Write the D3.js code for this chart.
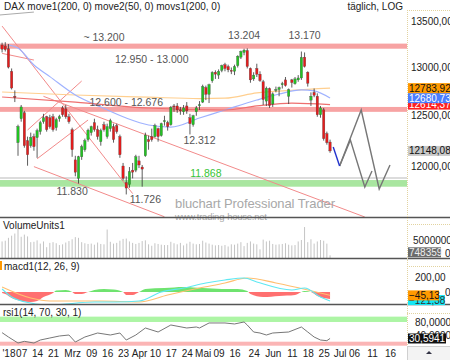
<!DOCTYPE html>
<html>
<head>
<meta charset="utf-8">
<script src="https://cdn.jsdelivr.net/npm/d3@7"></script>
<style>
  body { margin: 0; background: #fff; }
  svg { display: block; font-family: "Liberation Sans", Arial, sans-serif; }
</style>
</head>
<body>
<svg id="chart" width="450" height="360"></svg>
<script>
// ---- data -------------------------------------------------------------
var holidays = ["2018-03-30", "2018-04-02", "2018-05-01"];

// daily candles 2018-01-30 .. 2018-06-27
var opens = [
  13240,13230,13200,12960,12700,12230,12470,12530,12250,12200,
  12290,12280,12340,12440,12490,12480,12490,12380,12470,12580,
  12570,12490,12360,12060,11880,12090,12160,12260,12330,12430,
  12360,12240,12410,12290,12370,12390,12400,12290,12000,11840,
  11820,11960,11960,12050,11990,12100,12260,12290,12290,12370,
  12300,12440,12430,12410,12600,12600,12560,12540,12600,12480,
  12410,12540,12610,12640,12790,12720,12860,12950,12920,12970,
  13030,13010,12970,12960,13020,13110,13160,13180,12990,12880,
  12990,12930,12850,12650,12780,12620,12760,12770,12820,12870,
  12700,12870,12830,12870,12890,13110,12950,12660,12740,12700,
  12510,12560,12320,12236];
var highs = [
  13265,13270,13250,12990,12760,12410,12610,12550,12290,12330,
  12320,12370,12450,12520,12500,12510,12520,12480,12510,12600,
  12610,12520,12380,12100,12100,12210,12270,12370,12400,12470,
  12400,12370,12440,12420,12470,12420,12420,12310,12030,11900,
  11990,12030,12110,12100,12010,12330,12300,12370,12420,12380,
  12430,12500,12450,12600,12620,12630,12590,12610,12640,12520,
  12510,12600,12650,12820,12810,12830,12960,12970,12980,13030,
  13050,13030,13000,13030,13130,13180,13200,13204,13000,12950,
  13040,12960,12870,12800,12790,12740,12800,12800,12850,12900,
  12780,12880,12900,12920,13170,13160,12960,12740,12780,12730,
  12600,12580,12340,12260];
var lows = [
  13160,13170,12990,12770,12640,12100,12440,12180,12003,12180,
  12150,12080,12310,12420,12340,12370,12340,12350,12440,12490,
  12470,12420,12090,11900,11830,12060,12140,12240,12300,12340,
  12260,12200,12340,12270,12340,12230,12320,12080,11860,11726,
  11790,11880,11940,11980,11800,12090,12160,12240,12280,12240,
  12290,12400,12350,12400,12540,12530,12510,12510,12520,12312,
  12390,12500,12560,12630,12660,12630,12840,12880,12880,12950,
  12960,12950,12930,12920,13000,13090,13130,12990,12840,12860,
  12900,12850,12610,12600,12580,12590,12740,12700,12780,12800,
  12620,12790,12820,12850,12870,13000,12800,12600,12690,12490,
  12480,12250,12210,12130];
var closes = [
  13195,13190,13004,12785,12687,12392,12590,12200,12110,12282,
  12190,12350,12430,12480,12360,12390,12360,12460,12490,12510,
  12490,12440,12160,11940,12090,12190,12250,12355,12390,12360,
  12290,12350,12360,12390,12450,12260,12340,12110,11880,11787,
  11945,11940,12090,12010,11970,12305,12240,12260,12400,12290,
  12420,12450,12390,12585,12590,12560,12550,12580,12550,12420,
  12500,12580,12612,12800,12720,12820,12948,12930,12960,13020,
  12990,12975,12965,13010,13120,13170,13185,13010,12870,12920,
  12930,12863,12666,12783,12605,12724,12770,12790,12830,12811,
  12767,12842,12880,12890,13107,13011,12835,12700,12710,12510,
  12580,12270,12230,12148];
var volumes = [
  4.6,4.8,5.6,6.2,6.8,8.4,5.9,6.5,6.0,4.4,
  4.5,4.9,4.0,4.6,3.0,4.2,4.4,4.1,3.6,3.8,
  4.3,4.7,5.2,5.8,5.6,4.4,4.1,3.9,4.0,3.7,
  4.3,3.9,3.8,7.9,4.5,4.0,4.2,4.8,5.3,5.4,
  4.6,4.2,3.9,4.2,4.7,4.9,3.8,3.4,4.1,3.9,
  3.7,3.6,3.6,4.5,4.1,3.8,4.2,3.5,4.0,4.5,
  4.0,3.8,3.9,4.8,4.3,4.0,3.7,3.5,3.6,3.4,
  3.6,3.2,3.8,3.7,4.0,4.4,3.3,4.2,4.6,4.0,
  3.8,2.4,5.1,4.6,4.8,3.9,3.7,3.8,3.9,4.1,
  3.7,3.5,3.6,4.6,5.0,8.6,4.4,5.2,4.0,4.6,
  5.0,4.8,4.0,0.748359]; // millions

var ma200Dates = ["2018-01-30","2018-03-02","2018-04-06","2018-04-30","2018-05-11","2018-05-25","2018-06-11","2018-06-27"];
var ma200Values = [12744,12713,12690,12676,12680,12735,12762,12783.92];
var ma50Dates = ["2018-02-01","2018-02-06","2018-02-13","2018-02-20","2018-03-02","2018-03-14","2018-03-26","2018-04-06","2018-04-17","2018-04-30","2018-05-11","2018-05-25","2018-06-05","2018-06-14","2018-06-20","2018-06-27"];
var ma50Values = [13240,13207,13026,12904,12713,12589,12477,12407,12386,12477,12559,12661,12723,12765,12755,12680.73];
var movsDates = ["2018-01-30","2018-03-02","2018-04-06","2018-05-11","2018-05-25","2018-06-11","2018-06-27"];
var movsValues = [12692,12640,12579,12559,12600,12630,12614.37];

var resistBands = [[13200, 13255], [12540, 12590]];
var supportBand = [11800, 11864];
var supportLine = 11884;

var trendLines = [
  ["2018-01-30", 13445, "2018-03-28", 11734],
  ["2018-02-09", 12356, "2018-03-06", 12858],
  ["2018-02-14", 12071, "2018-03-08", 12457],
  ["2018-02-13", 11994, "2018-04-13", 11515],
  ["2018-02-16", 12699, "2018-07-09", 11513],
  ["2018-01-30", 13150, "2018-02-13", 13079]
];
var greyLine = ["2018-01-29", 13566, "2018-02-13", 13599];

var projDates = ["2018-06-28", "2018-07-02"];
var projValues = [12187, 12000];
var pathADates = ["2018-07-02","2018-07-05","2018-07-09","2018-07-11"];
var pathAValues = [12000, 12256, 11797, 11951];
var pathBDates = ["2018-07-02","2018-07-08","2018-07-13","2018-07-16"];
var pathBValues = [12000, 12559, 11778, 12010];

var notes = ["~ 13.200", "12.950 - 13.000", "13.204", "13.170", "12.600 - 12.676", "12.312", "11.868", "11.830", "11.726"];
var noteDates = ["2018-03-15","2018-04-09","2018-05-21","2018-06-15","2018-03-26","2018-04-30","2018-05-03","2018-03-01","2018-04-05"];
var notePrices = [13283, 13047, 13305, 13305, 12600, 12217, 11893, 11724, 11640];

var priceTicks = [12000, 12500, 13000, 13500];
var priceTags = [12614.37, 12680.73, 12783.92, 12148.08];

var macdDates = ["2018-01-30","2018-02-02","2018-02-12","2018-02-20","2018-03-12","2018-03-21","2018-04-03","2018-04-12","2018-04-23","2018-05-03","2018-05-11","2018-05-21","2018-05-25","2018-06-11","2018-06-15","2018-06-22","2018-06-27"];
var macdValues = [40,-67,-147,-173,-133,-133,-120,0,53,120,160,187,133,27,53,-67,-121.38];
var signalDates = ["2018-01-30","2018-02-12","2018-02-20","2018-03-14","2018-04-03","2018-04-16","2018-04-30","2018-05-11","2018-05-22","2018-06-04","2018-06-18","2018-06-27"];
var signalValues = [67,-80,-120,-120,-133,-40,53,120,187,120,27,-45.13];
var histDates = ["2018-01-30","2018-01-31","2018-02-02","2018-02-07","2018-02-12","2018-02-14","2018-02-16","2018-02-21","2018-02-22","2018-02-27","2018-03-01","2018-03-02","2018-03-06","2018-03-08","2018-03-12","2018-03-15","2018-03-20","2018-03-23","2018-03-26","2018-03-28","2018-04-03","2018-04-05","2018-04-13","2018-04-23","2018-05-02","2018-05-10","2018-05-17","2018-05-22","2018-05-23","2018-05-29","2018-06-05","2018-06-12","2018-06-14","2018-06-15","2018-06-19","2018-06-21","2018-06-25","2018-06-27"];
var histValues = [-13,-27,-80,-120,-133,-120,-67,-13,20,27,0,-27,-27,0,27,40,33,0,-40,-40,0,40,53,67,53,40,40,13,-27,-67,-53,-40,0,13,0,-53,-80,-93];

var rsiDates = ["2018-01-30","2018-02-01","2018-02-06","2018-02-08","2018-02-13","2018-02-15","2018-02-20","2018-02-23","2018-02-28","2018-03-02","2018-03-07","2018-03-13","2018-03-19","2018-03-22","2018-03-26","2018-03-29","2018-04-05","2018-04-11","2018-04-17","2018-04-24","2018-04-27","2018-04-30","2018-05-04","2018-05-11","2018-05-16","2018-05-21","2018-05-22","2018-05-24","2018-05-28","2018-05-30","2018-06-01","2018-06-08","2018-06-14","2018-06-18","2018-06-20","2018-06-22","2018-06-26","2018-06-27"];
var rsiValues = [48,35,17,22,17,26,32,38,41,20,35,47,41,47,26,41,62,50,71,62,65,62,77,77,74,80,71,50,47,41,47,50,65,50,35,26,24,30.5941];

var xTickDates = ["2018-02-01","2018-02-07","2018-02-14","2018-02-21","2018-03-01","2018-03-09","2018-03-16","2018-03-23","2018-04-03","2018-04-10","2018-04-17","2018-04-24","2018-05-02","2018-05-09","2018-05-16","2018-05-24","2018-06-01","2018-06-11","2018-06-18","2018-06-25","2018-07-02","2018-07-06","2018-07-11","2018-07-16"];
var xTickLabels = ["'18","07","14","21","Mrz","09","16","23","Apr","10","17","24","Mai","09","16","24","Jun","11","18","25","Jul","06","11","16"];

// ---- slots: trading days, then calendar days in the future ---------------
var iso = d3.timeFormat("%Y-%m-%d");
var slots = [];
d3.timeDay.range(new Date(2018, 0, 29), new Date(2018, 6, 3)).forEach(function(d) {
  var w = d.getDay();
  if (w > 0 && w < 6 && holidays.indexOf(iso(d)) < 0) slots.push(iso(d));
});
d3.timeDay.range(new Date(2018, 6, 3), new Date(2018, 6, 24)).forEach(function(d) { slots.push(iso(d)); });
var slotOf = new Map(slots.map(function(s, i) { return [s, i]; }));
var candleDates = slots.slice(1, 1 + closes.length);

// ---- layout -----------------------------------------------------------
var plotR = 407;
var main = { top: 0, bottom: 217 }, vol = { top: 218, bottom: 258 },
    macdP = { top: 258, bottom: 304 }, rsiP = { top: 305, bottom: 346 };
var fs = "10px";

var x = d3.scaleLinear().domain([25, 107, 121]).range([78.5, 339.6, 390]);
function X(d) { return x(slotOf.get(d)); }
var y = d3.scaleLog().domain([11513, 13733]).range([main.bottom, main.top]);
var yVol = d3.scaleLinear().domain([0, 11.11]).range([vol.bottom, vol.top]);
var yMacd = d3.scaleLinear().domain([-160, 453]).range([macdP.bottom, macdP.top]);
var yRsi = d3.scaleLinear().domain([0, 100]).range([348.7, 315.3]);

var de = function(f) { return function(v) { return d3.format(f)(v).replace(".", ","); }; };

var svg = d3.select("#chart");
var defs = svg.append("defs");
function clip(id, top, bottom) {
  defs.append("clipPath").attr("id", id).append("rect")
    .attr("x", 0).attr("y", top).attr("width", plotR).attr("height", bottom - top);
}
clip("cMain", main.top, main.bottom);
clip("cVol", vol.top, vol.bottom);
clip("cMacd", macdP.top, macdP.bottom);
clip("cRsi", rsiP.top, rsiP.bottom);
defs.append("clipPath").attr("id", "cPos").append("rect").attr("x", 0).attr("y", macdP.top).attr("width", plotR).attr("height", yMacd(0) - macdP.top);
defs.append("clipPath").attr("id", "cNeg").append("rect").attr("x", 0).attr("y", yMacd(0)).attr("width", plotR).attr("height", macdP.bottom - yMacd(0));

// ---- main panel ----------------------------------------------------------
var gm = svg.append("g").attr("clip-path", "url(#cMain)");

gm.selectAll("rect.res").data(resistBands).join("rect")
  .attr("x", 0).attr("width", plotR)
  .attr("y", function(d) { return y(d[1]); })
  .attr("height", function(d) { return y(d[0]) - y(d[1]); })
  .attr("fill", "#f7a3a3");
gm.append("line").attr("x1", 0).attr("x2", plotR)
  .attr("y1", y(supportLine)).attr("y2", y(supportLine))
  .attr("stroke", "#dcdcdc").attr("stroke-width", 2);
gm.append("rect").attr("x", 0).attr("width", plotR)
  .attr("y", y(supportBand[1])).attr("height", y(supportBand[0]) - y(supportBand[1]))
  .attr("fill", "#a9e6a0");

gm.selectAll("line.trend").data(trendLines).join("line")
  .attr("x1", function(d) { return X(d[0]); }).attr("y1", function(d) { return y(d[1]); })
  .attr("x2", function(d) { return X(d[2]); }).attr("y2", function(d) { return y(d[3]); })
  .attr("stroke", "#f28a8a").attr("stroke-width", 1);
gm.append("line")
  .attr("x1", X(greyLine[0])).attr("y1", y(greyLine[1]))
  .attr("x2", X(greyLine[2])).attr("y2", y(greyLine[3]))
  .attr("stroke", "#aaa").attr("stroke-width", 1);

function series(dates, values) { return dates.map(function(d, i) { return [X(d), values[i]]; }); }
var priceLine = d3.line().x(function(d) { return d[0]; }).y(function(d) { return y(d[1]); }).curve(d3.curveMonotoneX);
gm.append("path").attr("d", priceLine(series(ma200Dates, ma200Values))).attr("fill", "none").attr("stroke", "#ffcf8f").attr("stroke-width", 1.2);
gm.append("path").attr("d", priceLine(series(ma50Dates, ma50Values))).attr("fill", "none").attr("stroke", "#9fb2ff").attr("stroke-width", 1.2);
gm.append("path").attr("d", priceLine(series(movsDates, movsValues))).attr("fill", "none").attr("stroke", "#ee6f6f").attr("stroke-width", 1.2);

var candles = candleDates.map(function(d, i) {
  return { d: d, o: opens[i], h: highs[i], l: lows[i], c: closes[i] };
});
gm.selectAll("line.wick").data(candles).join("line")
  .attr("x1", function(d) { return X(d.d); }).attr("x2", function(d) { return X(d.d); })
  .attr("y1", function(d) { return y(d.h); }).attr("y2", function(d) { return y(d.l); })
  .attr("stroke", "#333").attr("stroke-width", 0.8);
gm.selectAll("rect.body").data(candles).join("rect")
  .attr("x", function(d) { return X(d.d) - 1.2; }).attr("width", 2.4)
  .attr("y", function(d) { return y(Math.max(d.o, d.c)); })
  .attr("height", function(d) { return Math.max(1, Math.abs(y(d.o) - y(d.c))); })
  .attr("fill", function(d) { return d.c >= d.o ? "#22c322" : "#e51c1c"; })
  .attr("stroke", "#444").attr("stroke-width", 0.3);

var straight = d3.line().x(function(d) { return d[0]; }).y(function(d) { return y(d[1]); });
gm.append("path").attr("d", straight(series(pathBDates, pathBValues))).attr("fill", "none").attr("stroke", "#777").attr("stroke-width", 1.4);
gm.append("path").attr("d", straight(series(pathADates, pathAValues))).attr("fill", "none").attr("stroke", "#777").attr("stroke-width", 1.4);
gm.append("path").attr("d", straight(series(projDates, projValues))).attr("fill", "none").attr("stroke", "#2233cc").attr("stroke-width", 1.4);

svg.selectAll("text.note").data(notes).join("text")
  .attr("x", function(d, i) { return X(noteDates[i]); })
  .attr("y", function(d, i) { return y(notePrices[i]); })
  .attr("text-anchor", "middle").attr("font-size", "10.5px")
  .attr("fill", function(d) { return d === "11.868" ? "#35c535" : "#555"; })
  .text(function(d) { return d; });

// watermark
svg.append("text").attr("x", 175).attr("y", 208).attr("font-size", "13px").attr("fill", "#a8a8a8")
  .attr("textLength", 160).attr("lengthAdjust", "spacing").text("bluchart Professional Trader");
svg.append("text").attr("x", 175).attr("y", 220).attr("font-size", "9.5px").attr("fill", "#a8a8a8")
  .attr("textLength", 92).attr("lengthAdjust", "spacing").text("www.trading-house.net");

svg.append("text").attr("x", 4).attr("y", 10).attr("font-size", fs).attr("fill", "#222")
  .text("DAX move1(200, 0) move2(50, 0) movs1(200, 0)");
svg.append("text").attr("x", 403).attr("y", 10).attr("font-size", fs).attr("fill", "#222")
  .attr("text-anchor", "end").text("täglich, LOG");

// ---- volume ------------------------------------------------------------
var gv = svg.append("g").attr("clip-path", "url(#cVol)");
gv.selectAll("line").data(candleDates).join("line")
  .attr("x1", function(d) { return X(d); }).attr("x2", function(d) { return X(d); })
  .attr("y1", yVol(0)).attr("y2", function(d, i) { return yVol(volumes[i]); })
  .attr("stroke", "#c4c4c4").attr("stroke-width", 1);

// ---- macd --------------------------------------------------------------
var gmc = svg.append("g").attr("clip-path", "url(#cMacd)");
var histArea = d3.area().x(function(d) { return d[0]; }).y0(yMacd(0)).y1(function(d) { return yMacd(d[1]); }).curve(d3.curveMonotoneX);
var hist = series(histDates, histValues);
gmc.append("path").attr("d", histArea(hist)).attr("fill", "#6fe36f").attr("clip-path", "url(#cPos)");
gmc.append("path").attr("d", histArea(hist)).attr("fill", "#ff7070").attr("clip-path", "url(#cNeg)");
var macdLine = d3.line().x(function(d) { return d[0]; }).y(function(d) { return yMacd(d[1]); }).curve(d3.curveMonotoneX);
gmc.append("path").attr("d", macdLine(series(signalDates, signalValues))).attr("fill", "none").attr("stroke", "#ffbf70").attr("stroke-width", 1.1);
gmc.append("path").attr("d", macdLine(series(macdDates, macdValues))).attr("fill", "none").attr("stroke", "#5fe8f2").attr("stroke-width", 1.1);

// ---- rsi ---------------------------------------------------------------
var gr = svg.append("g").attr("clip-path", "url(#cRsi)");
gr.append("rect").attr("x", 0).attr("width", plotR).attr("y", yRsi(96)).attr("height", yRsi(80) - yRsi(96)).attr("fill", "#adf5a5");
gr.append("rect").attr("x", 0).attr("width", plotR).attr("y", yRsi(21)).attr("height", yRsi(9) - yRsi(21)).attr("fill", "#fbb5b5");
gr.append("path").attr("d", d3.line().x(function(d) { return d[0]; }).y(function(d) { return yRsi(d[1]); })(series(rsiDates, rsiValues)))
  .attr("fill", "none").attr("stroke", "#777").attr("stroke-width", 1);

// ---- panel frames & labels -----------------------------------------------
[main.bottom + 0.5, vol.bottom + 0.5, macdP.bottom + 0.5].forEach(function(v) {
  svg.append("line").attr("x1", 0).attr("x2", 450).attr("y1", v).attr("y2", v)
    .attr("stroke", "#555").attr("stroke-width", 1.3);
});
svg.append("line").attr("x1", plotR + 0.5).attr("x2", plotR + 0.5).attr("y1", 10).attr("y2", rsiP.bottom)
  .attr("stroke", "#e2d3a0").attr("stroke-dasharray", "1,1");
[[10, main.bottom], [224, vol.bottom], [266, macdP.bottom], [313, rsiP.bottom]].forEach(function(b) {
  svg.append("line").attr("x1", plotR).attr("x2", 450).attr("y1", b[0] + 0.5).attr("y2", b[0] + 0.5)
    .attr("stroke", "#e2d3a0").attr("stroke-dasharray", "1,1");
});
svg.append("text").attr("x", 3).attr("y", 229).attr("font-size", fs).attr("fill", "#222").text("VolumeUnits1");
svg.append("text").attr("x", 4).attr("y", 270).attr("font-size", fs).attr("fill", "#222").text("macd1(12, 26, 9)");
svg.append("rect").attr("x", 0).attr("y", 261).attr("width", 2).attr("height", 9).attr("fill", "#ff9900");
svg.append("text").attr("x", 3).attr("y", 316).attr("font-size", fs).attr("fill", "#222").text("rsi1(14, 70, 30, 1)");

// ---- right axes ----------------------------------------------------------
function styleAxis(g) {
  g.select(".domain").remove();
  g.selectAll("text").attr("font-size", fs).attr("fill", "#222")
    .attr("font-family", "Liberation Sans, Arial, sans-serif");
}
svg.append("g").attr("transform", "translate(" + plotR + ",0)")
  .call(d3.axisRight(y).tickValues(priceTicks).tickFormat(de(".2f")).tickSize(0).tickPadding(4))
  .call(styleAxis);
var volAxis = svg.append("g").attr("transform", "translate(" + plotR + ",0)")
  .call(d3.axisRight(yVol).tickValues([0, 5]).tickFormat(function(v) { return v === 0 ? "0" : d3.format("d")(v * 1e6); }).tickSize(0).tickPadding(6))
  .call(styleAxis);
volAxis.selectAll("text").filter(function(d) { return d === 0; }).attr("x", 38).attr("dy", "-0.2em");
var macdAxis = svg.append("g").attr("transform", "translate(" + plotR + ",0)")
  .call(d3.axisRight(yMacd).tickValues([0, 200]).tickFormat(function(v) { return v === 0 ? "0" : de(".2f")(v); }).tickSize(0).tickPadding(8))
  .call(styleAxis);
macdAxis.selectAll("text").filter(function(d) { return d === 0; }).attr("x", 38);
svg.append("g").attr("transform", "translate(" + plotR + ",0)")
  .call(d3.axisRight(yRsi).tickValues([40, 80]).tickFormat(de(".4f")).tickSize(0).tickPadding(8))
  .call(styleAxis);

function tag(yPos, txt, bg, fg, w) {
  svg.append("rect").attr("x", plotR + 1).attr("y", yPos - 5).attr("width", w).attr("height", 10).attr("fill", bg);
  svg.append("text").attr("x", plotR + 2).attr("y", yPos + 3.5).attr("font-size", fs).attr("fill", fg).text(txt);
}
var tagColors = [["#ff2020", "#fff"], ["#4a7dff", "#fff"], ["#ff9a00", "#111"], ["#c9c9c9", "#111"]];
priceTags.forEach(function(v, i) { tag(y(v), de(".2f")(v), tagColors[i][0], tagColors[i][1], 43); });
tag(yVol(volumes[volumes.length - 1]) - 3, d3.format("d")(volumes[volumes.length - 1] * 1e6), "#6b6b6b", "#eee", 33);
tag(yMacd(macdValues[macdValues.length - 1]) - 1, de(".2f")(macdValues[macdValues.length - 1]), "#14e6f5", "#333", 37);
tag(yMacd(signalValues[signalValues.length - 1]), de(".2f")(signalValues[signalValues.length - 1]), "#ff9a00", "#111", 31);
tag(yRsi(rsiValues[rsiValues.length - 1]), de(".4f")(rsiValues[rsiValues.length - 1]), "#111", "#fff", 38);

// ---- x axis --------------------------------------------------------------
svg.append("g").attr("transform", "translate(0," + (rsiP.bottom + 1) + ")")
  .call(d3.axisBottom(x).tickValues(xTickDates.map(function(d) { return slotOf.get(d); }))
    .tickFormat(function(v, i) { return xTickLabels[i]; }).tickSize(0).tickPadding(3))
  .call(styleAxis);
svg.append("rect").attr("x", plotR + 0.5).attr("y", rsiP.bottom + 0.5).attr("width", 43).attr("height", 14)
  .attr("fill", "#f3f3f3").attr("stroke", "#d0d0d0");
svg.append("path").attr("d", "M426,354 l3,-3 l3,3 z").attr("fill", "#334");
</script>
</body>
</html>
